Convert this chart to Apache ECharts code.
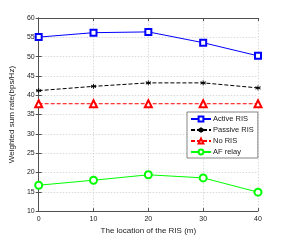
<!DOCTYPE html>
<html><head><meta charset="utf-8">
<script src="https://cdn.jsdelivr.net/npm/echarts@6/dist/echarts.min.js"></script>
<style>html,body{margin:0;padding:0;background:#fff}#c{width:285px;height:240px}</style>
</head><body><div id="c"></div>
<script>
const locations = [0, 10, 20, 30, 40];
const activeRIS = [55.05, 56.2, 56.4, 53.6, 50.2];
const passiveRIS = [41.2, 42.3, 43.2, 43.2, 41.9];
const noRIS = [37.8, 37.8, 37.8, 37.8, 37.8];
const afRelay = [16.7, 18.0, 19.4, 18.6, 14.9];
const seriesNames = ['Active RIS', 'Passive RIS', 'No RIS', 'AF relay'];

const font = 'Liberation Sans, Arial, sans-serif';
const pair = a => a.map((v, i) => [locations[i], v]);
const grid = {left: 37, right: 27, top: 18, bottom: 26};
const splitLine = {show: true, lineStyle: {color: '#d0d0d0', type: [1.5, 1.5], width: 0.8}};
const axLine = {show: true, lineStyle: {color: '#505050', width: 1}};
const tick = {show: true, inside: true, length: 3, lineStyle: {color: '#505050'}};
const star = 'path://M0,-1L0,1M-0.87,-0.5L0.87,0.5M-0.87,0.5L0.87,-0.5M-0.87,0L0.87,0';

const chart = echarts.init(document.getElementById('c'), null, {renderer: 'canvas'});
chart.setOption({
  animation: false,
  backgroundColor: '#fff',
  grid: grid,
  legend: {
    orient: 'vertical', left: 187, top: 112, padding: [3, 4, 2, 3],
    itemWidth: 20, itemHeight: 6, itemGap: 3,
    backgroundColor: '#fff', borderColor: '#505050', borderWidth: 0.7,
    textStyle: {fontFamily: font, fontSize: 7.5, color: '#222', padding: [0, 0, 0, -3]},
    data: seriesNames
  },
  xAxis: [{
    type: 'value', min: 0, max: 40, interval: 10,
    name: 'The location of the RIS (m)', nameLocation: 'middle', nameGap: 14,
    nameTextStyle: {fontFamily: font, fontSize: 8, color: '#222'},
    axisLabel: {fontFamily: font, fontSize: 7, color: '#222', margin: 4},
    axisLine: axLine, axisTick: tick, splitLine: splitLine
  }, {
    type: 'value', min: 0, max: 40, interval: 10, position: 'top',
    axisLabel: {show: false}, axisLine: axLine, axisTick: tick, splitLine: {show: false}
  }],
  yAxis: [{
    type: 'value', min: 10, max: 60, interval: 5,
    name: 'Weighted sum rate(bps/Hz)', nameLocation: 'middle', nameGap: 15,
    nameTextStyle: {fontFamily: font, fontSize: 8, color: '#222'},
    axisLabel: {fontFamily: font, fontSize: 7, color: '#222', margin: 4},
    axisLine: axLine, axisTick: tick, splitLine: splitLine
  }, {
    type: 'value', min: 10, max: 60, interval: 5, position: 'right',
    axisLabel: {show: false}, axisLine: axLine, axisTick: tick, splitLine: {show: false}
  }],
  series: [
    {name: seriesNames[0], type: 'line', data: pair(activeRIS), symbol: 'emptyRect', symbolSize: 6,
     color: '#0000ff', lineStyle: {width: 1, color: '#0000ff'}, itemStyle: {color: '#0000ff', borderWidth: 0.9}},
    {name: seriesNames[1], type: 'line', data: pair(passiveRIS), symbol: star, symbolSize: 5,
     color: '#000', lineStyle: {width: 1, color: '#000', type: [4, 2]}, itemStyle: {color: '#000', borderColor: '#000', borderWidth: 0.9}},
    {name: seriesNames[2], type: 'line', data: pair(noRIS), symbol: 'emptyTriangle', symbolSize: 7,
     color: '#ff0000', lineStyle: {width: 1, color: '#ff0000', type: [4, 2]}, itemStyle: {color: '#ff0000', borderWidth: 0.9}},
    {name: seriesNames[3], type: 'line', data: pair(afRelay), symbol: 'emptyCircle', symbolSize: 7,
     color: '#00ff00', lineStyle: {width: 1, color: '#00ff00'}, itemStyle: {color: '#00ff00', borderWidth: 0.9}}
  ]
});
</script></body></html>
